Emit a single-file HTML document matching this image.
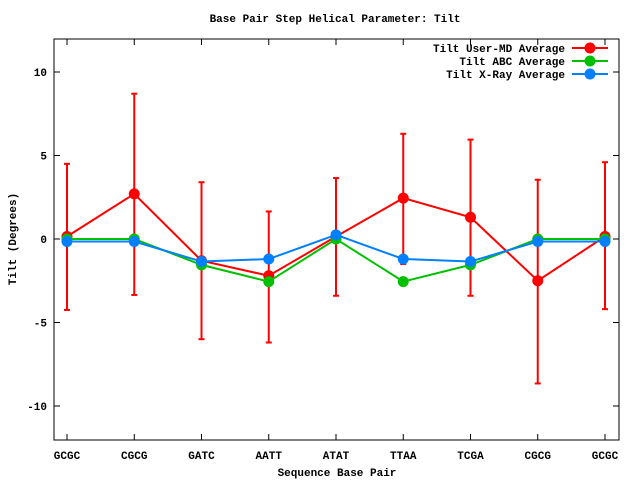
<!DOCTYPE html>
<html><head><style>body{margin:0;background:#fff}svg{display:block}text{font-family:"Liberation Mono","DejaVu Sans Mono",monospace;font-size:11px;font-weight:bold}</style></head>
<body>
<svg width="640" height="480" xmlns="http://www.w3.org/2000/svg">
<rect width="640" height="480" fill="#fff"/>
<text x="335" y="22" text-anchor="middle">Base Pair Step Helical Parameter: Tilt</text>
<rect x="54" y="39" width="565" height="401" fill="none" stroke="#000" stroke-width="1"/>
<g stroke="#000" stroke-width="1" id="ticks"></g>
<g id="lbl"></g>
<text x="337" y="476" text-anchor="middle">Sequence Base Pair</text>
<text transform="translate(16,239) rotate(-90)" text-anchor="middle">Tilt (Degrees)</text>
<g id="plot"></g>
<text x="565" y="52" text-anchor="end">Tilt User-MD Average</text>
<text x="565" y="65" text-anchor="end">Tilt ABC Average</text>
<text x="565" y="78" text-anchor="end">Tilt X-Ray Average</text>
<g stroke-width="2"><line x1="572" y1="48" x2="608" y2="48" stroke="#f00"/><line x1="572" y1="61" x2="608" y2="61" stroke="#00c000"/><line x1="572" y1="74" x2="608" y2="74" stroke="#0080ff"/></g>
<circle cx="590" cy="48" r="5.5" fill="#f00"/><circle cx="590" cy="61" r="5.5" fill="#00c000"/><circle cx="590" cy="74" r="5.5" fill="#0080ff"/>
</svg>
<script>
const NS="http://www.w3.org/2000/svg";
function el(p,t,a,txt){const e=document.createElementNS(NS,t);for(const k in a)e.setAttribute(k,a[k]);if(txt!==undefined)e.textContent=txt;document.getElementById(p).appendChild(e);return e;}
const X=i=>67+67.25*i, Y=v=>239-v*16.7;
const names=["GCGC","CGCG","GATC","AATT","ATAT","TTAA","TCGA","CGCG","GCGC"];
for(let v=-10;v<=10;v+=5){const y=Y(v);el("ticks","line",{x1:54,y1:y,x2:60,y2:y});el("ticks","line",{x1:619,y1:y,x2:613,y2:y});el("lbl","text",{x:47,y:y+4,"text-anchor":"end"},String(v));}
names.forEach((n,i)=>{const x=X(i);el("ticks","line",{x1:x,y1:440,x2:x,y2:434});el("ticks","line",{x1:x,y1:39,x2:x,y2:45});el("lbl","text",{x:x,y:459,"text-anchor":"middle"},n);});
const red=[0.15,2.7,-1.3,-2.2,0.15,2.45,1.3,-2.5,0.15];
const hi=[4.5,8.7,3.4,1.65,3.65,6.3,5.95,3.55,4.6];
const lo=[-4.25,-3.35,-6.0,-6.2,-3.4,-1.5,-3.4,-8.65,-4.2];
const green=[0,0,-1.55,-2.55,0,-2.55,-1.55,0,0];
const blue=[-0.15,-0.15,-1.35,-1.2,0.25,-1.2,-1.35,-0.15,-0.15];
function series(d,c,err){
 if(err)d.forEach((v,i)=>{const x=X(i);el("plot","line",{x1:x,y1:Y(hi[i]),x2:x,y2:Y(lo[i]),stroke:c,"stroke-width":2});[hi[i],lo[i]].forEach(w=>el("plot","line",{x1:x-3,y1:Y(w),x2:x+3,y2:Y(w),stroke:c,"stroke-width":2}));});
 el("plot","polyline",{points:d.map((v,i)=>X(i)+","+Y(v)).join(" "),fill:"none",stroke:c,"stroke-width":2});
 d.forEach((v,i)=>el("plot","circle",{cx:X(i),cy:Y(v),r:5.5,fill:c}));
}
series(red,"#f00",true);series(green,"#00c000");series(blue,"#0080ff");
</script>
</body></html>
